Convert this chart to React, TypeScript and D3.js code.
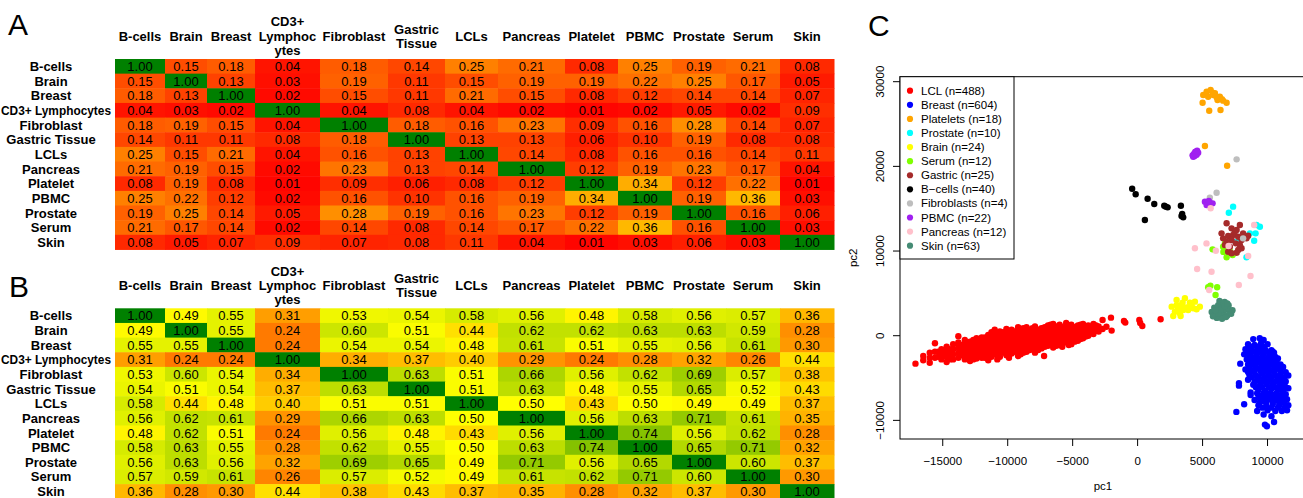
import React from "react";
import * as d3 from "d3";

// tissues, same order for rows and columns
const tissues = [
  "B-cells", "Brain", "Breast", "CD3+ Lymphocytes", "Fibroblast", "Gastric Tissue",
  "LCLs", "Pancreas", "Platelet", "PBMC", "Prostate", "Serum", "Skin",
];
const colHeaders = [
  ["B-cells"], ["Brain"], ["Breast"], ["CD3+", "Lymphoc", "ytes"], ["Fibroblast"],
  ["Gastric", "Tissue"], ["LCLs"], ["Pancreas"], ["Platelet"], ["PBMC"],
  ["Prostate"], ["Serum"], ["Skin"],
];

// panel A
const overlapA = [
  [1.00, 0.15, 0.18, 0.04, 0.18, 0.14, 0.25, 0.21, 0.08, 0.25, 0.19, 0.21, 0.08],
  [0.15, 1.00, 0.13, 0.03, 0.19, 0.11, 0.15, 0.19, 0.19, 0.22, 0.25, 0.17, 0.05],
  [0.18, 0.13, 1.00, 0.02, 0.15, 0.11, 0.21, 0.15, 0.08, 0.12, 0.14, 0.14, 0.07],
  [0.04, 0.03, 0.02, 1.00, 0.04, 0.08, 0.04, 0.02, 0.01, 0.02, 0.05, 0.02, 0.09],
  [0.18, 0.19, 0.15, 0.04, 1.00, 0.18, 0.16, 0.23, 0.09, 0.16, 0.28, 0.14, 0.07],
  [0.14, 0.11, 0.11, 0.08, 0.18, 1.00, 0.13, 0.13, 0.06, 0.10, 0.19, 0.08, 0.08],
  [0.25, 0.15, 0.21, 0.04, 0.16, 0.13, 1.00, 0.14, 0.08, 0.16, 0.16, 0.14, 0.11],
  [0.21, 0.19, 0.15, 0.02, 0.23, 0.13, 0.14, 1.00, 0.12, 0.19, 0.23, 0.17, 0.04],
  [0.08, 0.19, 0.08, 0.01, 0.09, 0.06, 0.08, 0.12, 1.00, 0.34, 0.12, 0.22, 0.01],
  [0.25, 0.22, 0.12, 0.02, 0.16, 0.10, 0.16, 0.19, 0.34, 1.00, 0.19, 0.36, 0.03],
  [0.19, 0.25, 0.14, 0.05, 0.28, 0.19, 0.16, 0.23, 0.12, 0.19, 1.00, 0.16, 0.06],
  [0.21, 0.17, 0.14, 0.02, 0.14, 0.08, 0.14, 0.17, 0.22, 0.36, 0.16, 1.00, 0.03],
  [0.08, 0.05, 0.07, 0.09, 0.07, 0.08, 0.11, 0.04, 0.01, 0.03, 0.06, 0.03, 1.00],
];

// panel B
const overlapB = [
  [1.00, 0.49, 0.55, 0.31, 0.53, 0.54, 0.58, 0.56, 0.48, 0.58, 0.56, 0.57, 0.36],
  [0.49, 1.00, 0.55, 0.24, 0.60, 0.51, 0.44, 0.62, 0.62, 0.63, 0.63, 0.59, 0.28],
  [0.55, 0.55, 1.00, 0.24, 0.54, 0.54, 0.48, 0.61, 0.51, 0.55, 0.56, 0.61, 0.30],
  [0.31, 0.24, 0.24, 1.00, 0.34, 0.37, 0.40, 0.29, 0.24, 0.28, 0.32, 0.26, 0.44],
  [0.53, 0.60, 0.54, 0.34, 1.00, 0.63, 0.51, 0.66, 0.56, 0.62, 0.69, 0.57, 0.38],
  [0.54, 0.51, 0.54, 0.37, 0.63, 1.00, 0.51, 0.63, 0.48, 0.55, 0.65, 0.52, 0.43],
  [0.58, 0.44, 0.48, 0.40, 0.51, 0.51, 1.00, 0.50, 0.43, 0.50, 0.49, 0.49, 0.37],
  [0.56, 0.62, 0.61, 0.29, 0.66, 0.63, 0.50, 1.00, 0.56, 0.63, 0.71, 0.61, 0.35],
  [0.48, 0.62, 0.51, 0.24, 0.56, 0.48, 0.43, 0.56, 1.00, 0.74, 0.56, 0.62, 0.28],
  [0.58, 0.63, 0.55, 0.28, 0.62, 0.55, 0.50, 0.63, 0.74, 1.00, 0.65, 0.71, 0.32],
  [0.56, 0.63, 0.56, 0.32, 0.69, 0.65, 0.49, 0.71, 0.56, 0.65, 1.00, 0.60, 0.37],
  [0.57, 0.59, 0.61, 0.26, 0.57, 0.52, 0.49, 0.61, 0.62, 0.71, 0.60, 1.00, 0.30],
  [0.36, 0.28, 0.30, 0.44, 0.38, 0.43, 0.37, 0.35, 0.28, 0.32, 0.37, 0.30, 1.00],
];

// panel C, pc1 / pc2 in thousands (subset of the dense clouds)
const lclPts = [
  [-17.1, -3.3], [-16.5, -2.4], [-16.5, -2.9], [-16.0, -3.2], [-16.0, -2.0], [-16.0, -2.6],
  [-15.6, -0.9], [-15.6, -2.6], [-15.6, -1.9], [-15.35, -2.5], [-15.35, -1.9],
  [-15.1, -2.8], [-15.1, -2.2], [-15.1, -1.6], [-14.9, -2.4], [-14.9, -1.8],
  [-14.7, -3.1], [-14.7, -2.5], [-14.7, -1.9], [-14.7, -1.3], [-14.45, -2.8], [-14.45, -2.2],
  [-14.45, -1.6], [-14.2, -2.8], [-14.2, -2.2], [-14.2, -1.6], [-14.2, -1.0],
  [-13.8, -0.05], [-13.8, -2.6], [-13.8, -2.0], [-13.8, -1.4], [-13.8, -0.8],
  [-13.55, -2.3], [-13.55, -1.7], [-13.55, -1.1],
  [-13.3, -2.8], [-13.3, -2.2], [-13.3, -1.6], [-13.3, -1.0], [-13.3, -0.5],
  [-13.1, -2.6], [-13.1, -2.0], [-13.1, -1.4], [-13.1, -0.8],
  [-12.9, -3.0], [-12.9, -2.5], [-12.9, -1.9], [-12.9, -1.3], [-12.9, -0.7],
  [-12.65, -2.8], [-12.65, -2.2], [-12.65, -1.6], [-12.65, -1.0], [-12.65, -0.5],
  [-12.4, -2.7], [-12.4, -2.1], [-12.4, -1.5], [-12.4, -0.9], [-12.4, -0.3],
  [-12.2, -2.3], [-12.2, -1.7], [-12.2, -1.1], [-12.2, -0.5],
  [-12.0, -2.6], [-12.0, -2.0], [-12.0, -1.4], [-12.0, -0.8], [-12.0, -0.2],
  [-11.75, -2.6], [-11.75, -2.0], [-11.75, -1.4], [-11.75, -0.8], [-11.75, -0.2],
  [-11.5, -2.9], [-11.5, -2.3], [-11.5, -1.7], [-11.5, -1.1], [-11.5, -0.5], [-11.5, 0.1],
  [-11.25, -2.5], [-11.25, -1.9], [-11.25, -1.3], [-11.25, -0.7], [-11.25, -0.1], [-11.25, 0.4],
  [-11.0, -2.2], [-11.0, -1.6], [-11.0, -1.0], [-11.0, -0.4], [-11.0, 0.2], [-11.0, 0.7],
  [-10.8, -2.8], [-10.8, -2.2], [-10.8, -1.6], [-10.8, -1.0], [-10.8, -0.4], [-10.8, 0.2],
  [-10.6, -2.5], [-10.6, -1.9], [-10.6, -1.3], [-10.6, -0.7], [-10.6, -0.1], [-10.6, 0.5],
  [-10.35, -2.0], [-10.35, -1.4], [-10.35, -0.8], [-10.35, -0.2], [-10.35, 0.4],
  [-10.1, -2.3], [-10.1, -1.7], [-10.1, -1.1], [-10.1, -0.5], [-10.1, 0.1], [-10.1, 0.8],
  [-9.9, -2.6], [-9.9, -1.8], [-9.9, -1.2], [-9.9, -0.6], [-9.9, 0.0], [-9.9, 0.5],
  [-9.7, -2.1], [-9.7, -1.5], [-9.7, -0.9], [-9.7, -0.3], [-9.7, 0.3], [-9.7, 0.7],
  [-9.45, -1.9], [-9.45, -1.3], [-9.45, -0.7], [-9.45, -0.1], [-9.45, 0.5],
  [-9.2, -2.4], [-9.2, -1.8], [-9.2, -1.2], [-9.2, -0.6], [-9.2, 0.0], [-9.2, 0.6], [-9.2, 1.0],
  [-9.0, -2.2], [-9.0, -1.6], [-9.0, -1.0], [-9.0, -0.4], [-9.0, 0.2], [-9.0, 0.8],
  [-8.8, -2.0], [-8.8, -1.4], [-8.8, -0.8], [-8.8, -0.2], [-8.8, 0.4], [-8.8, 0.9],
  [-8.55, -1.9], [-8.55, -1.3], [-8.55, -0.7], [-8.55, -0.1], [-8.55, 0.5], [-8.55, 1.0],
  [-8.3, -1.7], [-8.3, -1.1], [-8.3, -0.5], [-8.3, 0.1], [-8.3, 0.7],
  [-8.1, -1.4], [-8.1, -0.8], [-8.1, -0.2], [-8.1, 0.4], [-8.1, 0.9],
  [-7.9, -2.0], [-7.9, -1.3], [-7.9, -0.7], [-7.9, -0.1], [-7.9, 0.5], [-7.9, 1.1],
  [-7.65, -1.7], [-7.65, -1.1], [-7.65, -0.5], [-7.65, 0.1], [-7.65, 0.7],
  [-7.4, -1.5], [-7.4, -0.9], [-7.4, -0.3], [-7.4, 0.3], [-7.4, 0.9], [-7.2, -2.4],
  [-7.15, -1.3], [-7.15, -0.7], [-7.15, -0.1], [-7.15, 0.5], [-7.15, 1.0],
  [-6.9, -1.2], [-6.9, -0.6], [-6.9, 0.0], [-6.9, 0.6], [-6.9, 1.2],
  [-6.7, -1.0], [-6.7, -0.4], [-6.7, 0.2], [-6.7, 0.8], [-6.7, 1.3],
  [-6.5, -1.4], [-6.5, -0.8], [-6.5, -0.2], [-6.5, 0.4], [-6.5, 1.0], [-6.5, 1.4],
  [-6.25, -1.2], [-6.25, -0.6], [-6.25, 0.0], [-6.25, 0.5], [-6.25, 1.1],
  [-6.0, -1.1], [-6.0, -0.5], [-6.0, 0.1], [-6.0, 0.7], [-6.0, 1.3], [-5.8, -1.3],
  [-5.75, -0.8], [-5.75, -0.2], [-5.75, 0.4], [-5.75, 1.0],
  [-5.5, -0.8], [-5.5, -0.2], [-5.5, 0.4], [-5.5, 1.0], [-5.5, 1.5],
  [-5.3, -1.1], [-5.3, -0.5], [-5.3, 0.1], [-5.3, 0.7], [-5.3, 1.2],
  [-5.1, -1.0], [-5.1, -0.4], [-5.1, 0.2], [-5.1, 0.8], [-5.1, 1.3],
  [-4.85, -0.7], [-4.85, -0.1], [-4.85, 0.5], [-4.85, 1.0],
  [-4.6, -0.6], [-4.6, 0.0], [-4.6, 0.6], [-4.6, 1.2],
  [-4.4, -0.4], [-4.4, 0.2], [-4.4, 0.8], [-4.4, 1.3],
  [-4.2, -0.3], [-4.2, 0.3], [-4.2, 0.9], [-4.2, 1.4], [-4.0, -0.1], [-4.0, 0.5], [-4.0, 1.1],
  [-3.8, 0.0], [-3.8, 0.6], [-3.8, 1.2], [-3.6, 0.3], [-3.6, 0.9],
  [-3.4, 0.2], [-3.4, 0.8], [-3.4, 1.4], [-3.2, 0.6], [-3.2, 1.2],
  [-3.0, 0.5], [-3.0, 1.1], [-2.7, 1.85], [-2.7, 0.8],
  [-2.4, 1.06], [-2.05, 2.13], [-2.0, 0.6], [-1.05, 1.74], [-0.95, 1.55], [0.13, 1.85],
  [0.2, 1.5], [0.36, 1.15], [1.77, 1.94],
];
const breastPts = [
  [8.9, -0.4], [9.4, -0.3], [9.7, -0.5], [8.5, -1.0], [9.0, -1.1], [9.5, -0.9], [10.0, -1.0],
  [8.7, -1.3], [9.2, -1.3], [9.7, -1.3],
  [8.3, -1.6], [8.8, -1.7], [9.3, -1.5], [9.8, -1.6], [10.3, -1.7],
  [8.5, -1.9], [9.0, -1.9], [9.5, -1.9], [10.0, -1.9], [10.4, -1.9],
  [8.2, -2.2], [8.7, -2.3], [9.2, -2.1], [9.7, -2.2], [10.2, -2.3], [10.5, -2.0],
  [8.6, -2.5], [9.1, -2.5], [9.6, -2.5], [10.1, -2.5], [10.6, -2.5],
  [8.4, -2.8], [8.9, -2.9], [9.4, -2.7], [9.9, -2.8], [10.4, -2.9], [10.8, -2.7],
  [8.7, -3.1], [9.2, -3.1], [9.7, -3.1], [10.2, -3.1], [10.7, -3.1],
  [7.9, -3.3], [8.5, -3.4], [9.0, -3.5], [9.5, -3.3], [10.0, -3.4], [10.5, -3.5], [11.0, -3.4],
  [8.6, -3.7], [9.1, -3.7], [9.6, -3.7], [10.1, -3.7], [10.6, -3.7], [11.0, -3.8],
  [8.3, -4.0], [8.8, -4.1], [9.3, -3.9], [9.8, -4.0], [10.3, -4.1], [10.8, -3.9], [11.2, -3.7],
  [8.5, -4.3], [9.0, -4.3], [9.5, -4.3], [10.0, -4.3], [10.5, -4.3], [11.0, -4.3], [11.4, -4.3],
  [8.6, -4.6], [9.1, -4.7], [9.6, -4.5], [10.1, -4.6], [10.6, -4.7], [11.0, -4.5], [11.6, -4.7],
  [8.8, -4.9], [9.3, -4.9], [9.8, -4.9], [10.3, -4.9], [10.8, -4.9], [11.3, -4.9],
  [8.5, -5.2], [9.2, -5.3], [9.7, -5.1], [10.2, -5.2], [10.7, -5.3], [11.1, -5.1], [11.4, -5.4],
  [9.0, -5.5], [9.5, -5.5], [10.0, -5.5], [10.5, -5.5], [11.0, -5.5],
  [7.8, -5.6], [7.8, -5.9], [8.9, -5.8], [9.4, -5.9], [9.9, -5.7], [10.4, -5.8], [10.9, -5.9], [11.3, -5.7],
  [9.1, -6.1], [9.6, -6.1], [10.1, -6.1], [10.6, -6.1], [11.0, -6.1], [11.4, -6.1],
  [8.7, -6.7], [9.3, -6.4], [9.8, -6.5], [10.3, -6.3], [10.8, -6.4], [11.2, -6.5], [11.6, -6.2],
  [9.2, -6.8], [9.7, -6.8], [10.2, -6.8], [10.7, -6.8], [11.2, -6.8],
  [8.7, -7.0], [9.5, -7.1], [10.0, -6.9], [10.5, -7.0], [11.0, -7.1], [11.4, -6.9],
  [9.3, -7.3], [9.8, -7.3], [10.3, -7.3], [10.8, -7.3], [11.3, -7.3],
  [9.0, -7.6], [9.6, -7.7], [10.1, -7.5], [10.6, -7.6], [11.1, -7.7], [11.5, -7.5],
  [9.4, -7.9], [9.9, -7.9], [10.4, -7.9], [10.9, -7.9], [11.3, -7.9],
  [8.2, -8.1], [9.3, -8.2], [9.9, -8.3], [10.4, -8.1], [10.9, -8.2], [11.6, -8.2],
  [9.6, -8.5], [10.3, -8.5], [10.8, -8.5], [11.3, -8.5],
  [9.2, -8.9], [10.0, -8.8], [10.6, -8.9], [11.1, -8.9], [11.5, -8.8], [7.6, -9.0],
  [9.7, -9.3], [10.3, -9.5], [10.5, -10.2], [9.8, -10.5], [9.95, -10.7],
];
const plateletPts = [
  [5.05, 28.43], [5.31, 28.82], [5.62, 29.02], [5.43, 28.23], [5.82, 28.43], [6.08, 28.15],
  [6.33, 28.23], [6.15, 27.84], [6.58, 27.76], [6.85, 27.52], [5.0, 27.52], [5.51, 26.57],
  [6.38, 26.66], [5.18, 22.4], [6.89, 20.08], [5.77, 28.7], [5.95, 28.63], [6.49, 27.92],
];
const prostatePts = [
  [7.35, 15.24], [7.02, 14.53], [9.15, 13.07], [9.41, 12.87], [9.08, 12.09],
  [8.64, 12.09], [8.97, 11.22], [8.38, 9.26], [7.87, 11.54], [7.56, 11.07],
];
const brainPts = [
  [3.0, 4.22], [3.64, 4.42], [4.02, 3.9], [3.38, 3.63], [2.62, 3.43], [3.12, 3.24],
  [3.77, 3.35], [4.28, 3.24], [4.79, 3.43], [2.87, 2.83], [3.25, 2.65], [2.74, 2.33],
  [3.51, 3.04], [4.15, 3.63], [4.54, 3.12], [3.89, 3.04], [4.41, 4.02], [3.31, 2.33],
  [3.46, 3.9], [3.0, 3.6],
];
const serumPts = [
  [5.77, 10.2], [6.72, 10.91], [6.58, 10.51], [6.85, 9.26], [7.31, 9.53], [6.95, 10.3],
  [5.43, 5.72], [6.12, 5.72], [6.0, 4.81], [7.1, 10.0], [6.6, 9.9], [5.6, 5.9],
];
const gastricPts = [
  [6.85, 13.28], [7.23, 12.68], [7.62, 12.48], [7.87, 13.07], [6.58, 11.5], [6.97, 11.78],
  [7.35, 11.89], [7.74, 11.69], [8.0, 11.3], [8.51, 11.81], [6.72, 10.71], [7.1, 10.51],
  [7.56, 10.91], [8.0, 10.32], [6.97, 9.92], [7.62, 9.8], [7.23, 11.3], [7.48, 12.28],
  [8.12, 12.09], [6.85, 11.1], [7.87, 10.71], [7.74, 10.12], [7.23, 9.73], [8.38, 11.5],
  [6.46, 12.09],
];
const bcellPts = [
  [-0.42, 17.36], [-0.15, 16.7], [0.77, 16.18], [1.28, 15.55], [2.05, 15.35], [2.31, 15.16],
  [3.33, 15.35], [3.43, 14.37], [3.51, 13.98], [0.56, 13.66], [2.18, 15.24], [3.38, 14.14],
];
const fibroPts = [[7.62, 20.83], [5.56, 16.3], [6.08, 16.89], [8.12, 11.5]];
const pbmcPts = [
  [4.46, 21.54], [4.23, 21.3], [4.33, 21.46], [4.43, 21.7], [4.58, 21.85], [4.66, 21.62],
  [4.54, 21.38], [4.38, 21.22], [4.49, 21.74], [4.28, 21.14],
  [5.18, 15.83], [5.38, 15.55], [5.56, 15.71], [5.77, 15.63], [5.31, 15.44], [5.48, 15.91],
];
const pancreasPts = [
  [5.62, 15.05], [4.41, 10.32], [6.02, 10.04], [4.58, 7.88], [5.69, 7.56], [8.69, 7.05],
  [7.79, 5.99], [5.51, 5.4], [8.97, 13.07], [8.51, 9.41], [7.0, 10.6], [5.3, 10.9],
];
const skinPts = [
  [5.7, 2.8], [5.9, 3.3], [6.0, 2.5], [6.2, 3.6], [6.3, 2.9], [6.4, 2.2], [6.5, 3.4],
  [6.6, 2.7], [6.7, 4.0], [6.8, 3.1], [6.9, 2.4], [7.0, 3.6], [7.1, 2.9], [7.2, 2.6],
  [6.1, 2.1], [6.5, 2.0], [6.8, 2.2], [6.3, 4.1], [6.6, 3.9], [7.0, 3.2], [5.8, 2.3],
  [6.4, 3.1], [6.7, 3.5], [6.2, 2.6], [6.9, 3.8], [7.3, 3.0], [6.0, 3.0],
];

const groupNames = [
  "LCL (n=488)", "Breast (n=604)", "Platelets (n=18)", "Prostate (n=10)", "Brain (n=24)",
  "Serum (n=12)", "Gastric (n=25)", "B\u2212cells (n=40)", "Fibroblasts (n=4)", "PBMC (n=22)",
  "Pancreas (n=12)", "Skin (n=63)",
];
const groupPoints = [
  lclPts, breastPts, plateletPts, prostatePts, brainPts, serumPts,
  gastricPts, bcellPts, fibroPts, pbmcPts, pancreasPts, skinPts,
];
const groupColors = [
  "#ff0000", "#0000ff", "#ffa500", "#00ffff", "#ffff00", "#7fff00",
  "#a52a2a", "#000000", "#bebebe", "#a020f0", "#ffc0cb", "#458b74",
];

const FONT = "'Liberation Sans', Arial, Helvetica, sans-serif";
const colWidths = [50, 42, 48, 65, 68, 57, 53, 67, 53, 54, 54, 54, 54];
const rowH = 14.65;

const heatColor = d3.scaleLinear<string>()
  .domain([0, 0.5, 1])
  .range(["#ff0000", "#ffff00", "#008000"])
  .interpolate(d3.interpolateRgb);

function Heatmap({ values, top }: { values: number[][]; top: number }) {
  const left = 115;
  const edges = [left, ...Array.from(d3.cumsum(colWidths), (d) => left + d)];
  const y = d3.scaleBand<number>()
    .domain(d3.range(tissues.length))
    .range([top, top + tissues.length * rowH]);
  const headBase = top - 18.3;

  return (
    <g fontFamily={FONT} fontSize={13}>
      {colHeaders.map((lines, j) => {
        const cx = (edges[j] + edges[j + 1]) / 2;
        return lines.map((ln, k) => (
          <text key={`h${j}-${k}`} x={cx} y={headBase + (k - (lines.length - 1) / 2) * 14.3}
            textAnchor="middle" fontWeight="bold">{ln}</text>
        ));
      })}
      {values.map((row, i) => (
        <g key={i}>
          {row.map((v, j) => (
            <rect key={j} x={edges[j]} y={y(i)} width={edges[j + 1] - edges[j] + 0.5}
              height={y.bandwidth() + 0.5} fill={heatColor(v)} />
          ))}
          {row.map((v, j) => (
            <text key={`t${j}`} x={(edges[j] + edges[j + 1]) / 2} y={(y(i) ?? 0) + rowH / 2}
              dy="0.36em" textAnchor="middle" fill="#000">{v.toFixed(2)}</text>
          ))}
          {tissues[i].length > 14 ? (
            // long label: squeezed so it stays inside the page
            <text x={1} y={(y(i) ?? 0) + rowH / 2} dy="0.36em" fontWeight="bold"
              textLength={110} lengthAdjust="spacingAndGlyphs">{tissues[i]}</text>
          ) : (
            <text x={51} y={(y(i) ?? 0) + rowH / 2} dy="0.36em" textAnchor="middle"
              fontWeight="bold">{tissues[i]}</text>
          )}
        </g>
      ))}
    </g>
  );
}

function Scatter() {
  const x = d3.scaleLinear().domain([-18.29, 12.96]).range([900, 1306]);
  const y = d3.scaleLinear().domain([-12.2, 30.59]).range([439, 76.7]);
  const fmt = d3.format("d");
  const [x0, x1] = x.range();
  const [y0, y1] = y.range();

  return (
    <g fontFamily={FONT} fontSize={11.5}>
      {groupPoints.map((pts, g) => (
        <g key={g} fill={groupColors[g]}>
          {pts.map((p, i) => (
            <circle key={i} cx={x(p[0])} cy={y(p[1])} r={3.2} />
          ))}
        </g>
      ))}
      <rect x={x0} y={y1} width={x1 - x0} height={y0 - y1} fill="none" stroke="#000" strokeWidth={1} />
      {x.ticks(6).map((t) => (
        <g key={t}>
          <line x1={x(t)} x2={x(t)} y1={y0} y2={y0 + 7} stroke="#000" />
          <text x={x(t)} y={y0 + 26} textAnchor="middle">{fmt(t * 1000)}</text>
        </g>
      ))}
      {y.ticks(5).map((t) => (
        <g key={t}>
          <line x1={x0 - 7} x2={x0} y1={y(t)} y2={y(t)} stroke="#000" />
          <text transform={`translate(${x0 - 16.5},${y(t)}) rotate(-90)`} textAnchor="middle">
            {fmt(t * 1000)}
          </text>
        </g>
      ))}
      <text x={(x0 + x1) / 2} y={490} textAnchor="middle">pc1</text>
      <text transform={`translate(857,${(y0 + y1) / 2}) rotate(-90)`} textAnchor="middle">pc2</text>

      <rect x={x0} y={y1} width={114} height={182.3} fill="#fff" stroke="#000" strokeWidth={1} />
      {groupNames.map((name, g) => (
        <g key={name} transform={`translate(0,${y1 + 14 + g * 14.09})`}>
          <circle cx={910} cy={0} r={3.1} fill={groupColors[g]} />
          <text x={921} y={4}>{name}</text>
        </g>
      ))}
    </g>
  );
}

export default function App() {
  return (
    <svg width={1303} height={498} style={{ position: "absolute", left: 0, top: 0, background: "#fff" }}>
      <rect width={1303} height={498} fill="#fff" />
      <text x={8} y={35} fontFamily={FONT} fontSize={30}>A</text>
      <text x={9} y={297} fontFamily={FONT} fontSize={30}>B</text>
      <text x={868} y={36} fontFamily={FONT} fontSize={30}>C</text>
      <Heatmap values={overlapA} top={59} />
      <Heatmap values={overlapB} top={308.3} />
      <Scatter />
    </svg>
  );
}
